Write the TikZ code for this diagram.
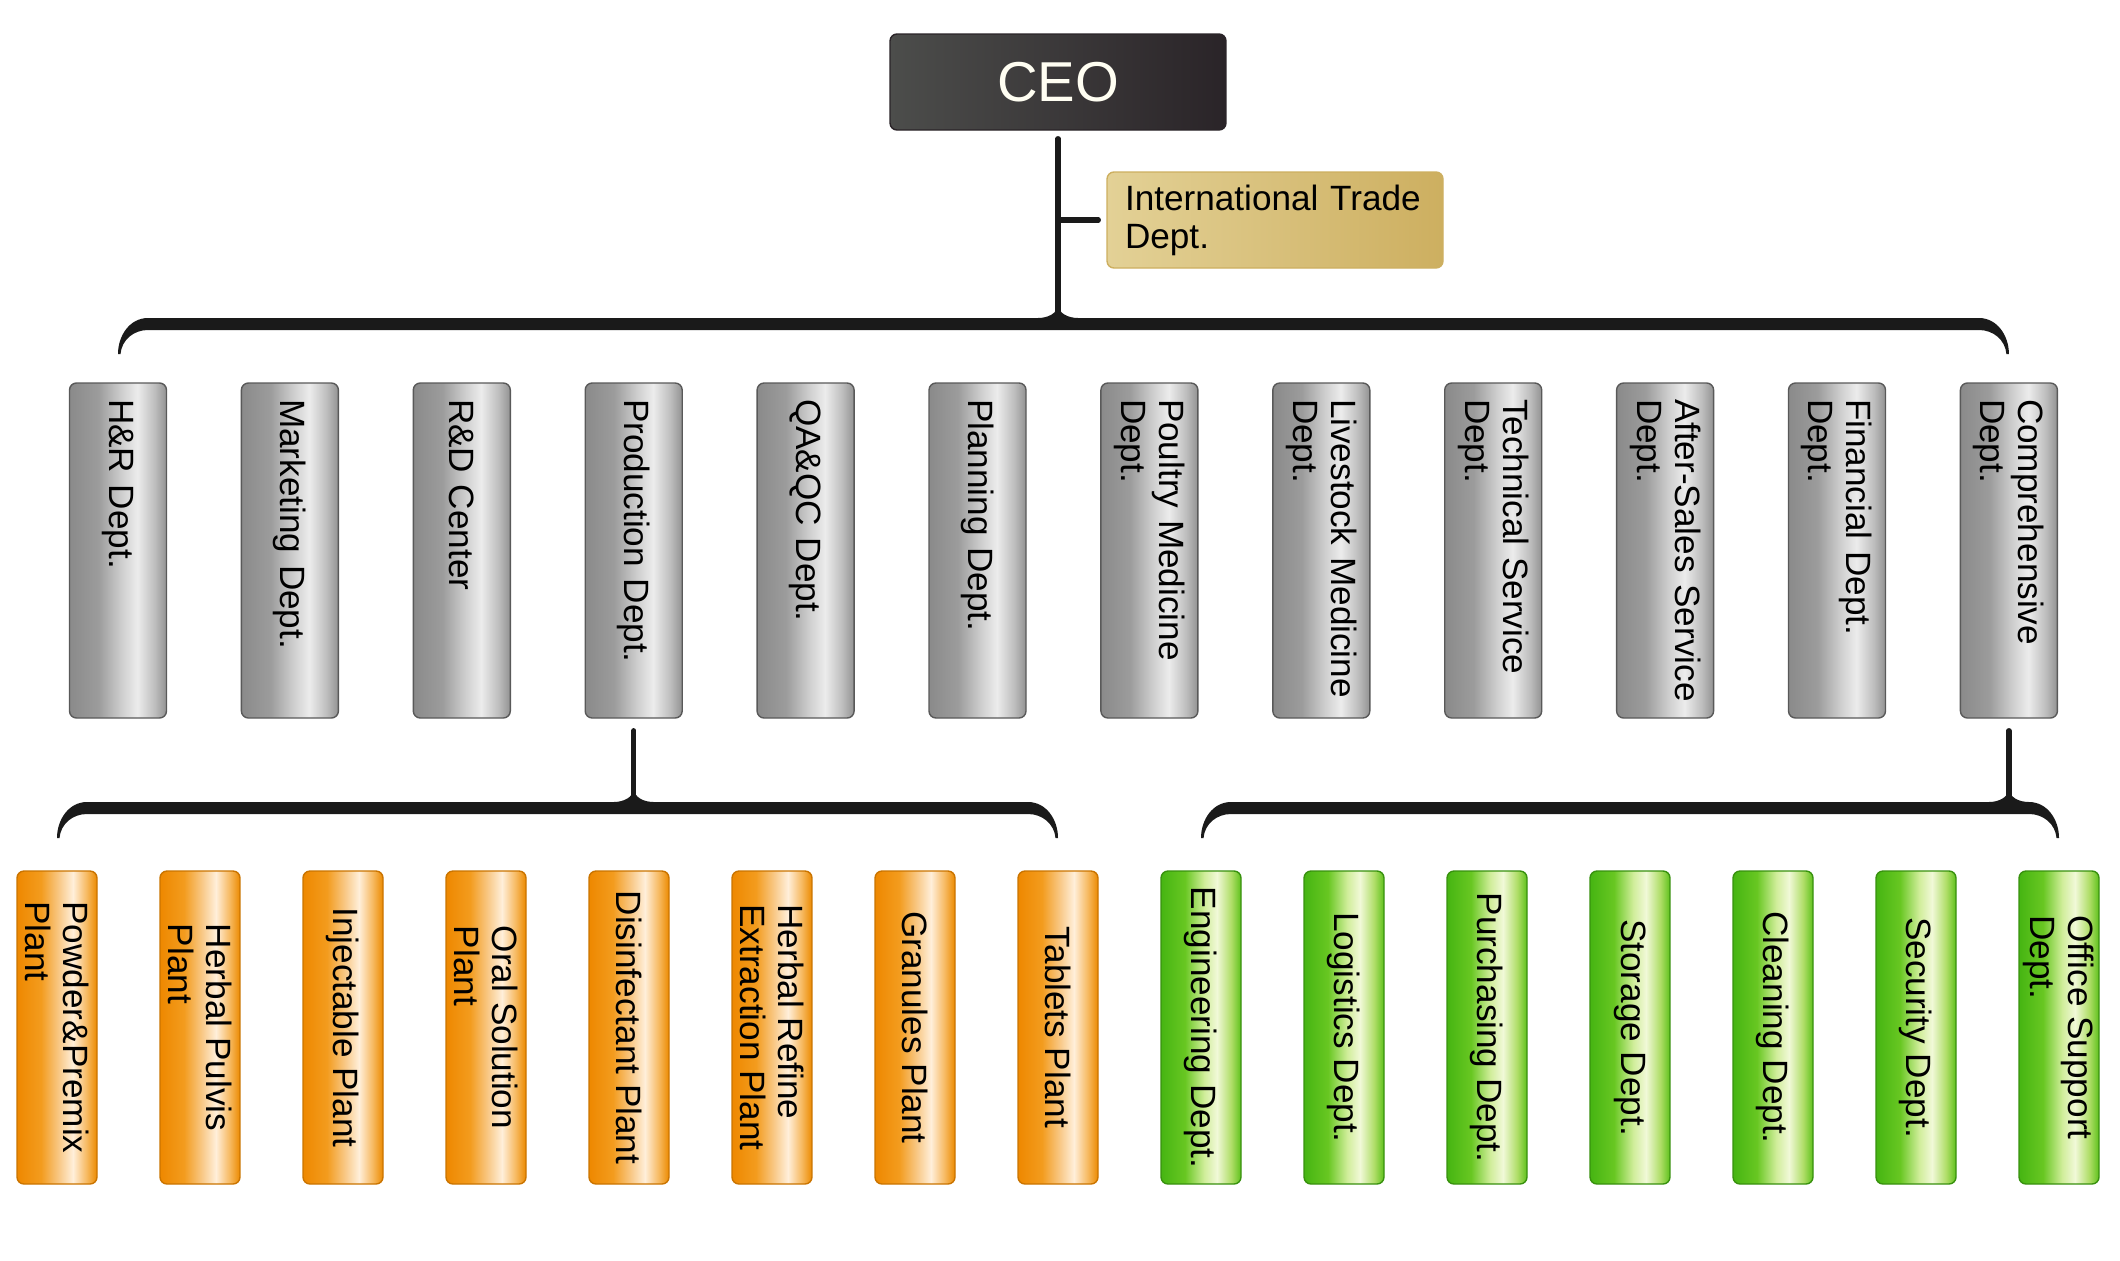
\documentclass[tikz,border=0pt]{standalone}
\usepackage{fontspec}
\setmainfont{Liberation Sans}
\usetikzlibrary{calc}

\definecolor{linecol}{HTML}{1A1A1A}
\definecolor{gA}{HTML}{8A8A8A}\definecolor{gB}{HTML}{9C9C9C}\definecolor{gC}{HTML}{CFCFCF}
\definecolor{gD}{HTML}{ECECEC}\definecolor{gE}{HTML}{BDBDBD}\definecolor{gF}{HTML}{929292}
\definecolor{oA}{HTML}{EE8800}\definecolor{oB}{HTML}{F39C1E}\definecolor{oC}{HTML}{F9CC8E}
\definecolor{oD}{HTML}{FFEFDA}\definecolor{oE}{HTML}{F6B65A}\definecolor{oF}{HTML}{EC8A00}
\definecolor{vA}{HTML}{46B512}\definecolor{vB}{HTML}{68C722}\definecolor{vC}{HTML}{D0ED9A}
\definecolor{vD}{HTML}{F1F9D8}\definecolor{vE}{HTML}{AEDD66}\definecolor{vF}{HTML}{5EC11C}
\definecolor{ceoL}{HTML}{4C4D4B}\definecolor{ceoM}{HTML}{2F3A3A}\definecolor{ceoR}{HTML}{2A2428}
\definecolor{itdL}{HTML}{E3D196}\definecolor{itdM}{HTML}{F2E7C2}\definecolor{itdR}{HTML}{CDAF60}

% shadings run across the box, left to right on the page
\pgfdeclarehorizontalshading{grayglass}{100bp}{color(0bp)=(gA); color(25bp)=(gA); color(40bp)=(gB);
  color(52bp)=(gC); color(60bp)=(gD); color(69bp)=(gE); color(75bp)=(gF); color(100bp)=(gF)}
\pgfdeclarehorizontalshading{orangeglass}{100bp}{color(0bp)=(oA); color(25bp)=(oA); color(40bp)=(oB);
  color(52bp)=(oC); color(60bp)=(oD); color(69bp)=(oE); color(75bp)=(oF); color(100bp)=(oF)}
\pgfdeclarehorizontalshading{greenglass}{100bp}{color(0bp)=(vA); color(25bp)=(vA); color(40bp)=(vB);
  color(52bp)=(vC); color(60bp)=(vD); color(69bp)=(vE); color(75bp)=(vF); color(100bp)=(vF)}

\tikzset{
  box/.style={rounded corners=0.07cm, line width=0.4pt, inner ysep=0pt},
  topdept/.style={box, rotate=-90, shading=grayglass, draw=gray!70!black,
    minimum width=3.35cm, minimum height=0.97cm, text width=3.03cm, inner xsep=0.16cm, align=left},
  plant/.style={box, rotate=-90, shading=orangeglass, draw=oA!85!black,
    minimum width=3.13cm, minimum height=0.8cm, inner xsep=0.1cm, align=left},
  service/.style={plant, shading=greenglass, draw=vA!80!black},
  stem/.style={draw=linecol, line width=1.5pt},
  brace/.style={fill=linecol}
}

% curly bracket: left child, stem point, right child
\newcommand{\orgbrace}[3]{%
  \fill[brace] let \p1=(#1), \p2=(#2), \p3=(#3) in
    (\x1,\y2-0.3cm) to[out=90,in=180] (\x1+0.3cm,\y2+0.06cm)
    -- (\x2-0.2cm,\y2+0.06cm) to[out=0,in=-90] (\x2,\y2+0.2cm)
    to[out=-90,in=180] (\x2+0.2cm,\y2+0.06cm)
    -- (\x3-0.3cm,\y2+0.06cm) to[out=0,in=90] (\x3,\y2-0.3cm)
    -- (\x3-0.025cm,\y2-0.3cm) to[out=95,in=0] (\x3-0.3cm,\y2-0.06cm)
    -- (\x1+0.3cm,\y2-0.06cm) to[out=180,in=85] (\x1+0.025cm,\y2-0.3cm) -- cycle;}

\begin{document}
\begin{tikzpicture}[font=\fontsize{10}{10.8}\selectfont, line join=round, line cap=round]
        \useasboundingbox (0,0) rectangle (21.2,12.6);
        \node[box, left color=ceoL, middle color=ceoM, right color=ceoR, draw=ceoR,
          minimum width=3.36cm, minimum height=0.96cm, text=white!95!yellow,
          font=\fontsize{16}{18}\selectfont] (CEO) at (10.58,11.78) {CEO};
        \node[box, left color=itdL, middle color=itdM, right color=itdR, draw=itdR,
          minimum height=0.96cm, text width=3.0cm, inner xsep=0.18cm, align=left] (ITD) at (12.75,10.40)
          {International Trade\\Dept.};
        % first level
        \foreach \name [count=\i] in {H\&R Dept., Marketing Dept., R\&D Center, Production Dept.,
          QA\&QC Dept., Planning Dept., {Poultry Medicine\\Dept.}, {Livestock Medicine\\Dept.},
          {Technical Service\\Dept.}, {After-Sales Service\\Dept.}, {Financial Dept.\\Dept.},
          {Comprehensive\\Dept.}}
          \node[topdept] (T\i) at ({1.18+1.719*(\i-1)},7.095) {\name};
        % second level
        \foreach \name [count=\i] in {{Powder\&Premix\\Plant}, {Herbal Pulvis\\Plant}, Injectable Plant,
          {Oral Solution\\Plant}, Disinfectant Plant, {Herbal Refine\\Extraction Plant},
          Granules Plant, Tablets Plant}
          \node[plant] (B\i) at ({0.57+1.43*(\i-1)},2.325) {\name};
        \foreach \name [count=\i from 9] in {Engineering Dept., Logistics Dept., Purchasing Dept.,
          Storage Dept., Cleaning Dept., Security Dept., {Office Support\\Dept.}}
          \node[service] (B\i) at ({0.57+1.43*(\i-1)},2.325) {\name};
        % connectors
        \coordinate (topbr) at (CEO.south |- 0,9.36);
        \coordinate (prodbr) at (T4 |- 0,4.52);
        \coordinate (compbr) at (T12 |- 0,4.52);
        \draw[stem] ($(CEO.south)+(0,-0.08)$) -- (topbr);
        \draw[stem, shorten >=0.08cm] (CEO.south |- ITD.west) -- (ITD.west);
        \draw[stem] ($(T4.east)+(0,-0.12)$) -- (prodbr);
        \draw[stem] ($(T12.east)+(0,-0.12)$) -- (compbr);
        \orgbrace{T1}{topbr}{T12}
        \orgbrace{B1}{prodbr}{B8}
        \orgbrace{B9}{compbr}{B15}
\end{tikzpicture}
\end{document}
